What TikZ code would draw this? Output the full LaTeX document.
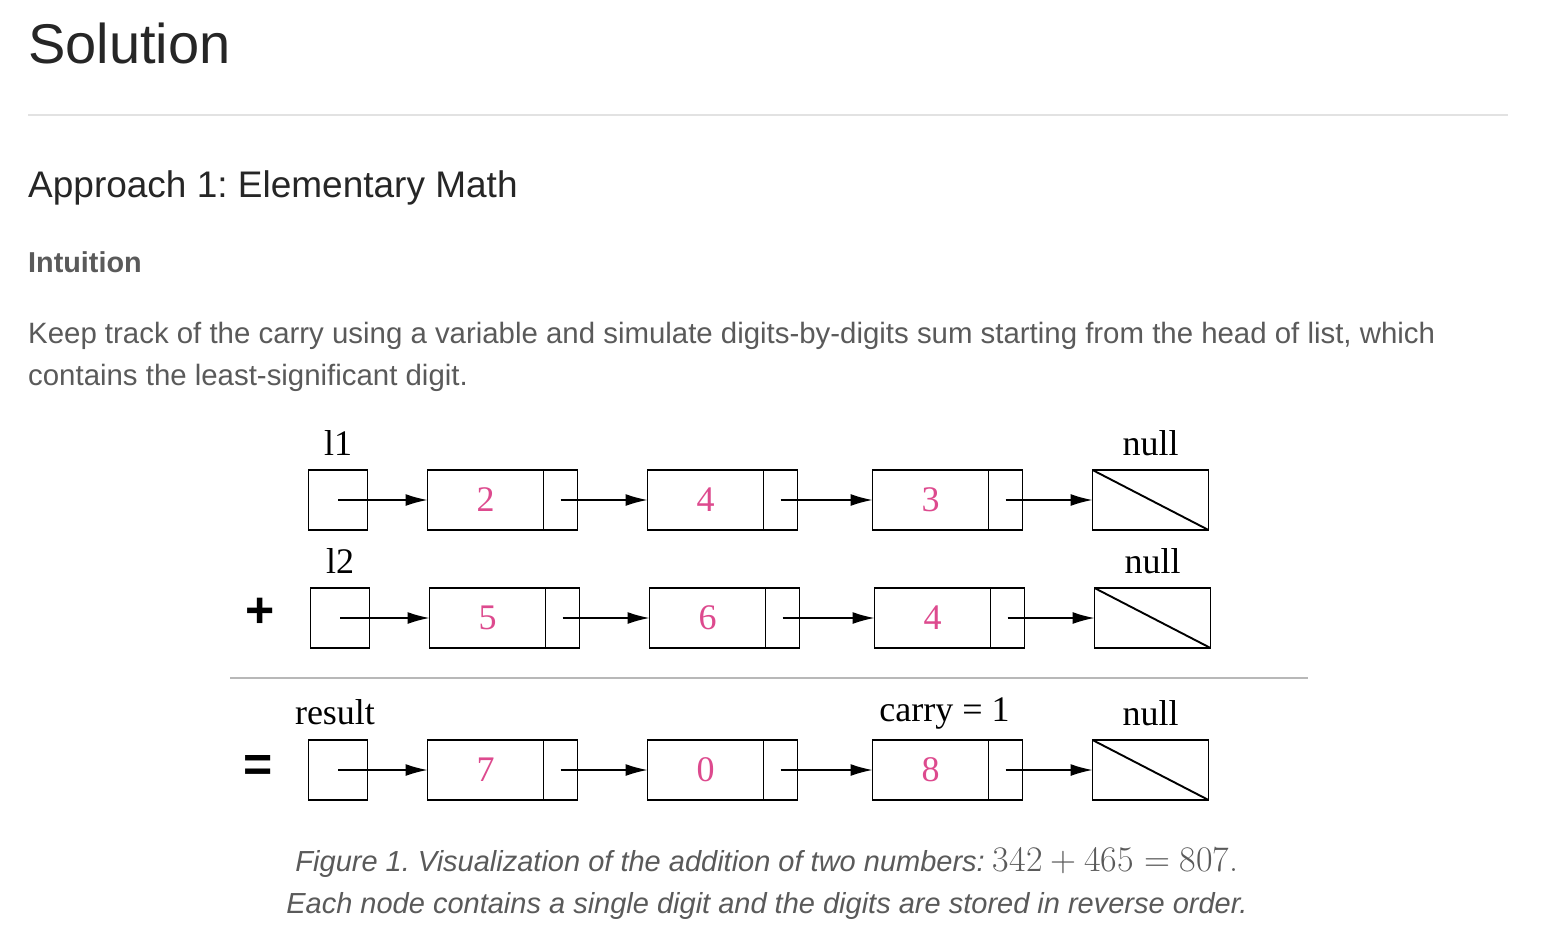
\documentclass[tikz,border=0pt]{standalone}
\usepackage{fontspec}
\setmainfont{Liberation Serif}
\setsansfont{Liberation Sans}
\newfontfamily\capmath{Latin Modern Roman}
\usetikzlibrary{arrows.meta, positioning}

\definecolor{headtext}{HTML}{262626}
\definecolor{bodytext}{HTML}{5A5A5A}
\definecolor{digitpink}{HTML}{DD4A8E}
\definecolor{rulegray}{HTML}{E2E2E2}
\definecolor{sepgray}{HTML}{B8B8B8}

\tikzset{
  cell/.style = {draw, line width=1.9pt, minimum height=60pt, inner sep=0pt, outer sep=0pt},
  datacell/.style = {cell, minimum width=116pt, text=digitpink, font=\fontsize{36}{36}\selectfont},
  ptrcell/.style = {cell, minimum width=34pt},
  headbox/.style = {cell, minimum width=59pt},
  nullbox/.style = {cell, minimum width=116pt},
  tag/.style = {inner sep=0pt, text depth=0pt, font=\fontsize{36}{36}\selectfont},
  opsign/.style = {inner sep=0pt, font=\sffamily\bfseries\fontsize{50}{50}\selectfont},
  link/.style = {->, line width=1.5pt},
  txt/.style = {inner sep=0pt, anchor=base west},
}

\begin{document}
\frenchspacing
\begin{tikzpicture}[x=1pt, y=-1pt, >={Latex[length=22pt,width=12pt]}]

\fill[white] (0,0) rectangle (1546,944);
\useasboundingbox (0,0) rectangle (1546,944);

% page text
\node[txt, text=headtext, font=\sffamily\fontsize{56}{56}\selectfont] (title) at (28,64) {Solution};
\draw[rulegray, line width=1.5pt] (28,115) -- (1508,115);
\node[txt, text=headtext, font=\sffamily\fontsize{37}{37}\selectfont] (approach) at (28,197) {Approach 1: Elementary Math};
\node[txt, text=bodytext, font=\sffamily\bfseries\fontsize{28.8}{28.8}\selectfont] (intuition) at (28,272) {Intuition};
\node[txt, text=bodytext, font=\sffamily\fontsize{29.4}{29.4}\selectfont] (para1) at (28,343) {Keep track of the carry using a variable and simulate digits-by-digits sum starting from the head of list, which};
\node[txt, text=bodytext, font=\sffamily\fontsize{29.4}{29.4}\selectfont] (para2) at (28,385) {contains the least-significant digit.};

% l1
\node[headbox] (h1) at (338,500) {};
\node[datacell, right = 60pt of h1] (d11) {2};
\node[ptrcell, right = 0pt of d11] (p11) {};
\node[datacell, right = 70pt of p11] (d12) {4};
\node[ptrcell, right = 0pt of d12] (p12) {};
\node[datacell, right = 75pt of p12] (d13) {3};
\node[ptrcell, right = 0pt of d13] (p13) {};
\node[nullbox, right = 70pt of p13] (n1) {};
\draw[line width=1.9pt] (n1.north west) -- (n1.south east);

\node[tag, above = 14pt of h1] (l1) {l1};
\node[tag, above = 14pt of n1] (null1) {null};

\draw[link] (h1.center) -- (d11);
\draw[link] (p11.center) -- (d12);
\draw[link] (p12.center) -- (d13);
\draw[link] (p13.center) -- (n1);

% l2
\node[headbox] (h2) at (340,618) {};
\node[datacell, right = 60pt of h2] (d21) {5};
\node[ptrcell, right = 0pt of d21] (p21) {};
\node[datacell, right = 70pt of p21] (d22) {6};
\node[ptrcell, right = 0pt of d22] (p22) {};
\node[datacell, right = 75pt of p22] (d23) {4};
\node[ptrcell, right = 0pt of d23] (p23) {};
\node[nullbox, right = 70pt of p23] (n2) {};
\draw[line width=1.9pt] (n2.north west) -- (n2.south east);

\node[tag, above = 14pt of h2] (l2) {l2};
\node[tag, above = 14pt of n2] (null2) {null};
\node[opsign, left = 36pt of h2, yshift=5pt] (plus) {+};

\draw[link] (h2.center) -- (d21);
\draw[link] (p21.center) -- (d22);
\draw[link] (p22.center) -- (d23);
\draw[link] (p23.center) -- (n2);

\draw[sepgray, line width=1.2pt] (230,678) -- (1308,678);

% result
\node[headbox] (h3) at (338,770) {};
\node[datacell, right = 60pt of h3] (d31) {7};
\node[ptrcell, right = 0pt of d31] (p31) {};
\node[datacell, right = 70pt of p31] (d32) {0};
\node[ptrcell, right = 0pt of d32] (p32) {};
\node[datacell, right = 75pt of p32] (d33) {8};
\node[ptrcell, right = 0pt of d33] (p33) {};
\node[nullbox, right = 70pt of p33] (n3) {};
\draw[line width=1.9pt] (n3.north west) -- (n3.south east);

\node[tag, above = 15pt of h3, xshift=-3pt] (res) {result};
\node[tag, above = 18pt of d33.north, xshift=14pt] (carry) {carry = 1};
\node[tag, above = 14pt of n3] (null3) {null};
\node[opsign, left = 36pt of h3, yshift=2pt] (equals) {=};

\draw[link] (h3.center) -- (d31);
\draw[link] (p31.center) -- (d32);
\draw[link] (p32.center) -- (d33);
\draw[link] (p33.center) -- (n3);

% caption
\node[inner sep=0pt, anchor=base, text=bodytext, font=\sffamily\itshape\fontsize{29}{29}\selectfont] (cap1) at (767,871) {Figure 1. Visualization of the addition of two numbers: {\capmath\upshape\fontsize{36}{36}\selectfont 342\kern.222em+\kern.222em465\kern.278em=\kern.278em807.}};
\node[inner sep=0pt, anchor=base, text=bodytext, font=\sffamily\itshape\fontsize{29}{29}\selectfont] (cap2) at (767,913) {Each node contains a single digit and the digits are stored in reverse order.};

\end{tikzpicture}
\end{document}
